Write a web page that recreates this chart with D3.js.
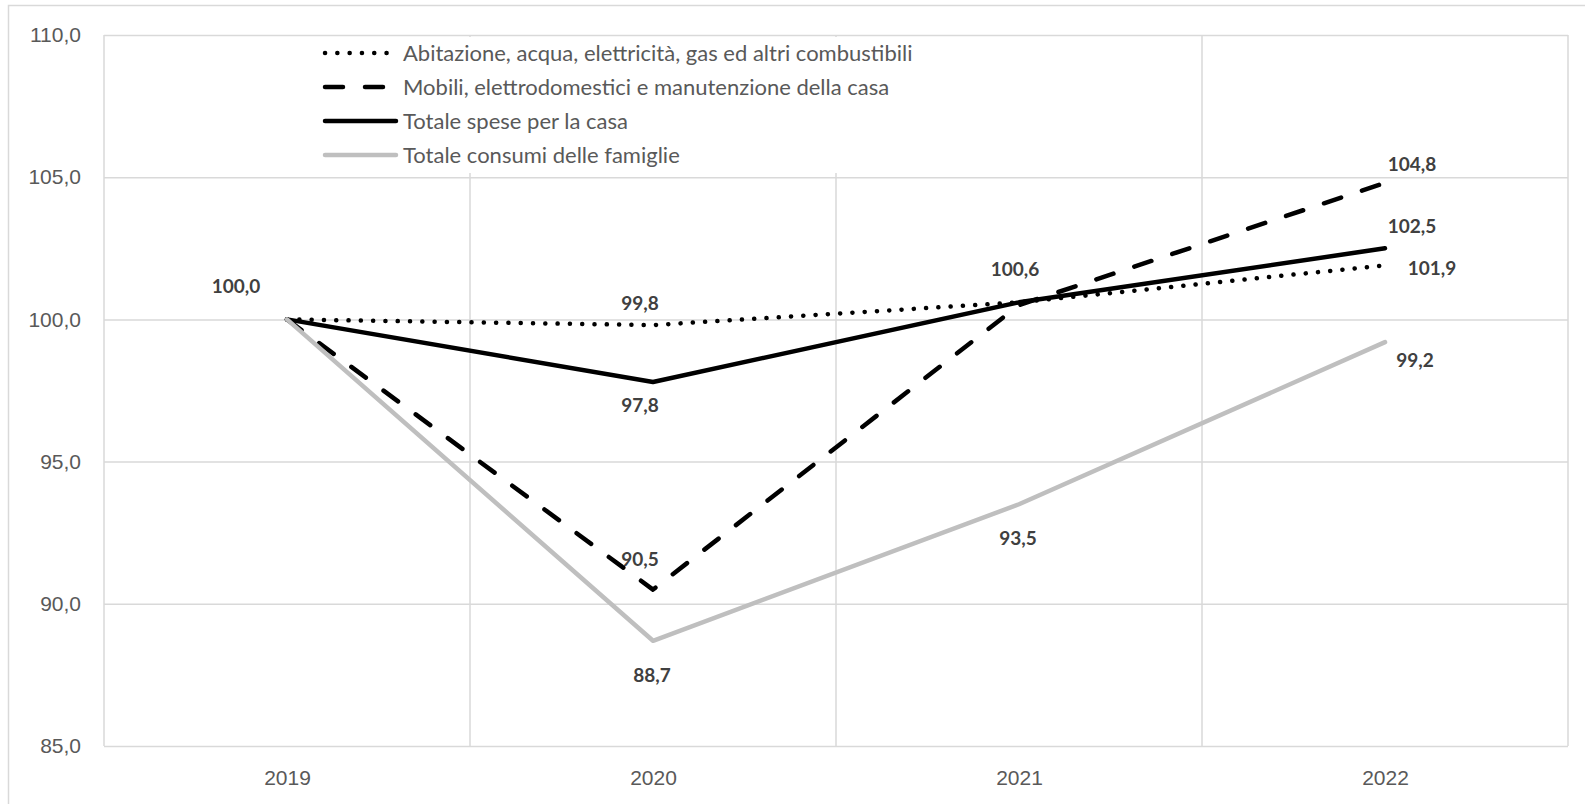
<!DOCTYPE html>
<html>
<head>
<meta charset="utf-8">
<script src="https://cdn.jsdelivr.net/npm/d3@7"></script>
<style>
  body { margin: 0; background: #fff; }
  svg { font-family: Lato, "Open Sans", sans-serif; }
  .tick-label { fill: #595959; font-size: 21px; }
  .legend-text { fill: #595959; font-size: 22px; }
  .data-label { fill: #404040; font-size: 19px; font-weight: bold; }
</style>
</head>
<body>
<div id="vis"></div>
<script>
var years = ['2019', '2020', '2021', '2022'];
var seriesNames = [
    'Abitazione, acqua, elettricità, gas ed altri combustibili',
    'Mobili, elettrodomestici e manutenzione della casa',
    'Totale spese per la casa',
    'Totale consumi delle famiglie'
];
var abitazione = [100.0, 99.8, 100.6, 101.9];
var mobili = [100.0, 90.5, 100.5, 104.8];
var totaleCasa = [100.0, 97.8, 100.6, 102.5];
var totaleConsumi = [100.0, 88.7, 93.5, 99.2];
var yTicks = [85, 90, 95, 100, 105, 110];

var width = 1585, height = 804;
var margin = { left: 104, right: 17, top: 35, bottom: 58 };
var drawWidth = width - margin.left - margin.right,
    drawHeight = height - margin.top - margin.bottom;

// line styles per series
var styles = [
    { color: '#000', width: 4.5, dash: '0.1 12.2' },
    { color: '#000', width: 4.5, dash: '18 22' },
    { color: '#000', width: 4.5, dash: null },
    { color: '#bfbfbf', width: 4.5, dash: null }
];

var allSeries = [abitazione, mobili, totaleCasa, totaleConsumi];

// which points get a label and where it sits relative to the point
var labels = [
    { s: 2, i: 0, dx: -51, dy: -33 },
    { s: 0, i: 1, dx: -13, dy: -22 },
    { s: 2, i: 1, dx: -13, dy: 23 },
    { s: 1, i: 1, dx: -13, dy: -30 },
    { s: 3, i: 1, dx: -1, dy: 35 },
    { s: 2, i: 2, dx: -4, dy: -33 },
    { s: 3, i: 2, dx: -1, dy: 34 },
    { s: 1, i: 3, dx: 27, dy: -19 },
    { s: 2, i: 3, dx: 27, dy: -22 },
    { s: 0, i: 3, dx: 47, dy: 3 },
    { s: 3, i: 3, dx: 30, dy: 18 }
];

var fmt = function(v) { return d3.format('.1f')(v).replace('.', ','); };

var svg = d3.select('#vis')
            .append('svg')
            .attr('width', width)
            .attr('height', height);

// outer chart border
svg.append('rect')
   .attr('x', 8.5).attr('y', 5.5)
   .attr('width', width + 20).attr('height', height + 20)
   .attr('fill', 'none')
   .attr('stroke', '#d9d9d9')
   .attr('stroke-width', 1.5);

var g = svg.append('g')
           .attr('transform', `translate(${margin.left}, ${margin.top})`);

var xScale = d3.scalePoint().domain(years).range([0, drawWidth]).padding(0.5);
var xBand = d3.scaleBand().domain(years).range([0, drawWidth]);
var yScale = d3.scaleLinear().domain([85, 110]).range([drawHeight, 0]);

// horizontal grid
var yAxis = d3.axisLeft(yScale)
              .tickValues(yTicks)
              .tickSize(-drawWidth)
              .tickPadding(23)
              .tickFormat(fmt);
var yAxisG = g.append('g').call(yAxis);
yAxisG.select('.domain').remove();
yAxisG.selectAll('.tick line').attr('stroke', '#d9d9d9').attr('stroke-width', 1.5);
yAxisG.selectAll('.tick text').attr('class', 'tick-label');

// vertical grid at category boundaries
var vLines = years.map(function(d) { return xBand(d); }).concat([drawWidth]);
g.selectAll('.vgrid')
 .data(vLines)
 .enter()
 .append('line')
 .attr('class', 'vgrid')
 .attr('x1', function(d) { return d; })
 .attr('x2', function(d) { return d; })
 .attr('y1', 0)
 .attr('y2', drawHeight)
 .attr('stroke', '#d9d9d9')
 .attr('stroke-width', 1.5);

var xAxis = d3.axisBottom(xScale).tickSize(0).tickPadding(24);
var xAxisG = g.append('g')
              .attr('transform', `translate(0, ${drawHeight})`)
              .call(xAxis);
xAxisG.select('.domain').remove();
xAxisG.selectAll('.tick text').attr('class', 'tick-label');

// legend background hides gridlines
var legend = g.append('g').attr('transform', 'translate(221, 18)');
legend.append('rect')
      .attr('x', -30).attr('y', -16)
      .attr('width', 660).attr('height', 136)
      .attr('fill', '#fff');

var line = d3.line()
             .x(function(d, i) { return xScale(years[i]); })
             .y(function(d) { return yScale(d); });

g.selectAll('.series')
 .data(allSeries)
 .enter()
 .append('path')
 .attr('class', 'series')
 .attr('d', line)
 .attr('fill', 'none')
 .attr('stroke', function(d, i) { return styles[i].color; })
 .attr('stroke-width', function(d, i) { return styles[i].width; })
 .attr('stroke-dasharray', function(d, i) { return styles[i].dash; })
 .attr('stroke-linecap', 'round')
 .attr('stroke-linejoin', 'round');

// legend rows
var rows = legend.selectAll('.row')
                 .data(seriesNames)
                 .enter()
                 .append('g')
                 .attr('transform', function(d, i) { return `translate(0, ${i * 34})`; });
rows.append('line')
    .attr('x1', 0).attr('x2', 71)
    .attr('y1', 0).attr('y2', 0)
    .attr('stroke', function(d, i) { return styles[i].color; })
    .attr('stroke-width', function(d, i) { return styles[i].width; })
    .attr('stroke-dasharray', function(d, i) { return styles[i].dash; })
    .attr('stroke-linecap', 'round');
rows.append('text')
    .attr('class', 'legend-text')
    .attr('x', 78)
    .attr('dy', '0.35em')
    .text(function(d) { return d; });

// data labels
g.selectAll('.data-label')
 .data(labels)
 .enter()
 .append('text')
 .attr('class', 'data-label')
 .attr('text-anchor', 'middle')
 .attr('dy', '0.35em')
 .attr('x', function(d) { return xScale(years[d.i]) + d.dx; })
 .attr('y', function(d) { return yScale(allSeries[d.s][d.i]) + d.dy; })
 .text(function(d) { return fmt(allSeries[d.s][d.i]); });
</script>
</body>
</html>
